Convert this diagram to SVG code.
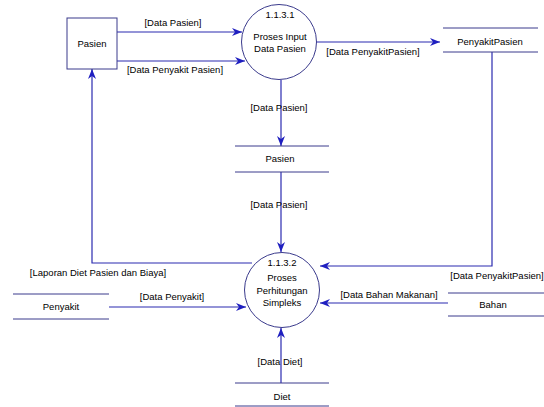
<svg xmlns="http://www.w3.org/2000/svg" width="544" height="407" viewBox="0 0 544 407">
<style>
text{font-family:"Liberation Sans",Arial,sans-serif;font-size:9.5px;fill:#000;text-anchor:middle}
.node{fill:#fff;stroke:#3a3a8c;stroke-width:1}
.store{stroke:#3a3a8c;stroke-width:1}
.flow{fill:none;stroke:#2b2bb0;stroke-width:1.2;marker-end:url(#ah)}
</style>
<defs>
<marker id="ah" viewBox="0 0 10 8" refX="10" refY="4" markerWidth="10" markerHeight="8" markerUnits="userSpaceOnUse" orient="auto">
<path d="M0,0 L10,4 L0,8 L3,4 Z" fill="#1f1fc0"/>
</marker>
</defs>
<rect width="544" height="407" fill="#fff"/>
<g id="connectors">
<path class="flow" d="M117,32 H242"/>
<path class="flow" d="M117,61 H245"/>
<path class="flow" d="M316,42 H440"/>
<path class="flow" d="M281,80 V146"/>
<path class="flow" d="M281,172 V252"/>
<path class="flow" d="M252,263 H92 V69"/>
<path class="flow" d="M492,52 V266 H320"/>
<path class="flow" d="M109,307 H246"/>
<path class="flow" d="M448,303 H320"/>
<path class="flow" d="M281,383 V328"/>
<text x="173" y="26">[Data Pasien]</text>
<text x="175" y="73">[Data Penyakit Pasien]</text>
<text x="373" y="55">[Data PenyakitPasien]</text>
<text x="279" y="111">[Data Pasien]</text>
<text x="279" y="208">[Data Pasien]</text>
<text x="98" y="276">[Laporan Diet Pasien dan Biaya]</text>
<text x="497" y="279">[Data PenyakitPasien]</text>
<text x="172" y="300">[Data Penyakit]</text>
<text x="389" y="298">[Data Bahan Makanan]</text>
<text x="280" y="365">[Data Diet]</text>
</g>
<g id="pasien-entity">
<rect class="node" x="67" y="18" width="50" height="51"/>
<text x="92" y="47">Pasien</text>
</g>
<g id="proses-1131">
<circle class="node" cx="279" cy="42" r="37.5"/>
<text x="280" y="18">1.1.3.1</text>
<text x="280" y="40">Proses Input</text>
<text x="280" y="52">Data Pasien</text>
</g>
<g id="store-penyakitpasien">
<line class="store" x1="443" y1="28" x2="538" y2="28"/>
<line class="store" x1="443" y1="52" x2="538" y2="52"/>
<text x="490" y="45">PenyakitPasien</text>
</g>
<g id="store-pasien">
<line class="store" x1="235" y1="146" x2="329" y2="146"/>
<line class="store" x1="235" y1="172" x2="329" y2="172"/>
<text x="280" y="162">Pasien</text>
</g>
<g id="proses-1132">
<circle class="node" cx="282" cy="290" r="37.5"/>
<text x="282" y="266">1.1.3.2</text>
<text x="282" y="281">Proses</text>
<text x="282" y="294">Perhitungan</text>
<text x="282" y="306">Simpleks</text>
</g>
<g id="store-penyakit">
<line class="store" x1="13" y1="294" x2="109" y2="294"/>
<line class="store" x1="13" y1="319" x2="109" y2="319"/>
<text x="61" y="310">Penyakit</text>
</g>
<g id="store-bahan">
<line class="store" x1="448" y1="293" x2="544" y2="293"/>
<line class="store" x1="448" y1="316" x2="544" y2="316"/>
<text x="493" y="308">Bahan</text>
</g>
<g id="store-diet">
<line class="store" x1="235" y1="383" x2="329" y2="383"/>
<line class="store" x1="235" y1="406" x2="329" y2="406"/>
<text x="282" y="400">Diet</text>
</g>
</svg>
